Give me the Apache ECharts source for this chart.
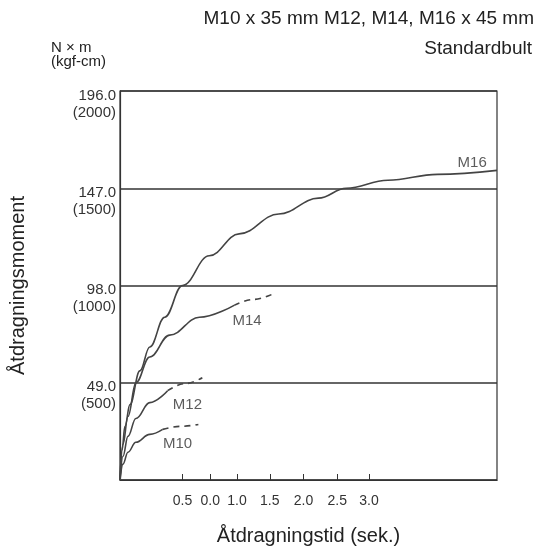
<!DOCTYPE html>
<html>
<head>
<meta charset="UTF-8">
<script src="https://cdn.jsdelivr.net/npm/echarts@6/dist/echarts.min.js"></script>
</head>
<body style="margin:0">
<div id="chart" style="width:543px;height:551px;"></div>
<script>
// x is the drawn position along the (non-linear) time axis, y is torque in N·m
var xTickPos = [0.63, 0.91, 1.18, 1.51, 1.85, 2.19, 2.51];
var xTickLabels = ['0.5', '0.0', '1.0', '1.5', '2.0', '2.5', '3.0'];
var yTicks = [49, 98, 147, 196];
var yKgf = {49: '(500)', 98: '(1000)', 147: '(1500)', 196: '(2000)'};

var m16 = [[0,0],[0.02,15],[0.05,27],[0.1,38],[0.2,55],[0.3,67],[0.45,82],[0.63,98],[0.9,113],[1.2,124],[1.6,134],[2.0,142],[2.28,147],[2.7,151],[3.2,154],[3.8,156]];
var m14 = [[0,0],[0.03,18],[0.08,32],[0.16,49],[0.3,62],[0.5,73],[0.8,82],[1.15,88]];
var m14dash = [[1.15,88],[1.35,91],[1.53,93.5]];
var m12 = [[0,0],[0.03,12],[0.08,22],[0.16,31],[0.3,39],[0.48,45]];
var m12dash = [[0.48,45],[0.65,48.5],[0.83,51.5]];
var m10 = [[0,0],[0.03,8],[0.08,14],[0.16,19],[0.3,23],[0.43,25.5]];
var m10dash = [[0.43,25.5],[0.6,27],[0.79,28]];
var labels = [['M16', 3.55, 160], ['M14', 1.28, 80], ['M12', 0.68, 38], ['M10', 0.58, 18]];

function line(d, dashed) {
  return {type: 'line', data: d, smooth: 0.4, smoothMonotone: 'x', symbol: 'none', silent: true,
    lineStyle: {color: '#444', width: 1.6, type: dashed ? [6, 5] : 'solid'}};
}

var series = [line(m16), line(m14), line(m14dash, true), line(m12), line(m12dash, true), line(m10), line(m10dash, true)];
series.push({
  type: 'scatter', symbolSize: 0, silent: true,
  data: labels.map(function (l) { return {value: [l[1], l[2]], name: l[0]}; }),
  label: {show: true, formatter: '{b}', color: '#333', fontSize: 15, fontFamily: 'Arial', position: 'inside'}
});

var chart = echarts.init(document.getElementById('chart'));
chart.setOption({
  animation: false,
  title: [
    {text: 'M10 x 35 mm M12, M14, M16 x 45 mm', right: 4, top: 4, textStyle: {fontSize: 19, fontWeight: 'normal', color: '#222', fontFamily: 'Arial'}},
    {text: 'Standardbult', right: 6, top: 34, textStyle: {fontSize: 19, fontWeight: 'normal', color: '#222', fontFamily: 'Arial'}},
    {text: 'N × m\n(kgf-cm)', left: 46, top: 36, textStyle: {fontSize: 15, fontWeight: 'normal', color: '#222', fontFamily: 'Arial', lineHeight: 14}}
  ],
  grid: {left: 117, right: 46, top: 91, bottom: 61, show: true, borderColor: '#333', borderWidth: 1.2},
  xAxis: {
    type: 'value', min: 0, max: 3.8,
    name: 'Åtdragningstid (sek.)', nameLocation: 'middle', nameGap: 46,
    nameTextStyle: {fontSize: 20, color: '#222', fontFamily: 'Arial'},
    axisLine: {lineStyle: {color: '#333', width: 1.2}},
    axisTick: {show: true, customValues: xTickPos, inside: true, length: 6, lineStyle: {color: '#333'}},
    axisLabel: {customValues: xTickPos, formatter: function (v) {
      var i = xTickPos.indexOf(v); return i < 0 ? '' : xTickLabels[i];
    }, fontSize: 14, color: '#333', fontFamily: 'Arial', margin: 14},
    splitLine: {show: false}
  },
  yAxis: {
    type: 'value', min: 0, max: 196, interval: 49,
    name: 'Åtdragningsmoment', nameLocation: 'middle', nameGap: 92,
    nameTextStyle: {fontSize: 20, color: '#222', fontFamily: 'Arial'},
    axisLine: {show: true, lineStyle: {color: '#333', width: 1.2}},
    axisTick: {show: false},
    axisLabel: {formatter: function (v) {
      return yTicks.indexOf(v) < 0 ? '' : v.toFixed(1) + '\n' + yKgf[v];
    }, fontSize: 15, color: '#333', fontFamily: 'Arial', lineHeight: 17, verticalAlign: 'top', margin: 4, padding: [-4, 0, 0, 0]},
    splitLine: {show: true, lineStyle: {color: '#333', width: 1.5}}
  },
  series: series
});
</script>
</body>
</html>
